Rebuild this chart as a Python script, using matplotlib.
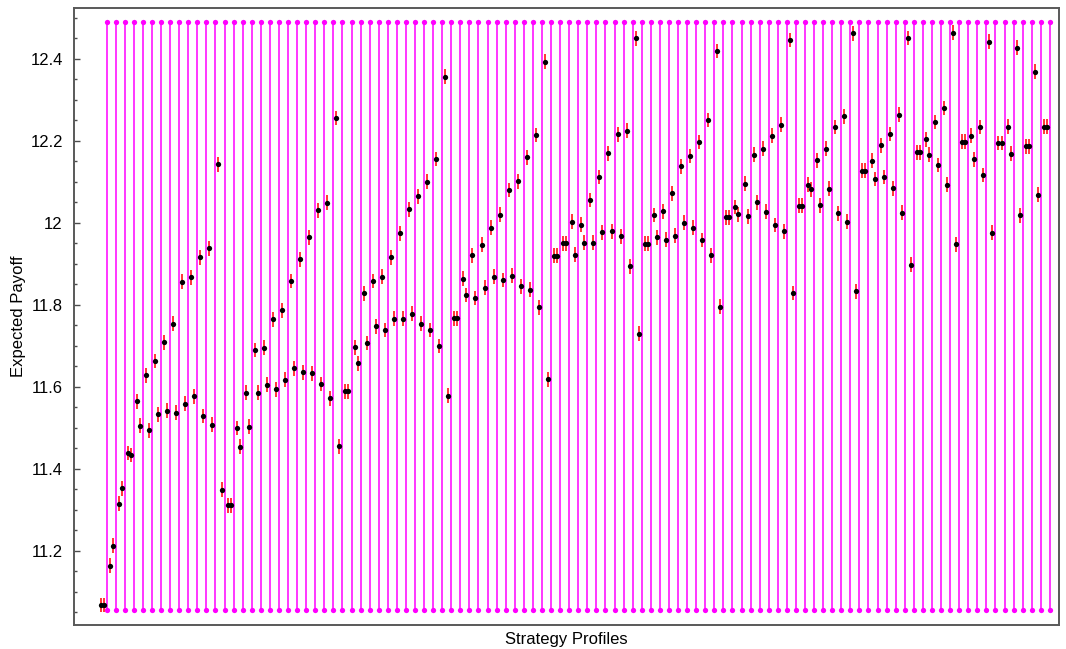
import numpy as np
import matplotlib.pyplot as plt
from matplotlib.ticker import MultipleLocator, FormatStrFormatter

plt.rcParams['font.family'] = ['Liberation Sans', 'DejaVu Sans']

# expected payoff of the two profiles in each block (first slot, second slot)
payoff_first = [
    11.068, 11.164, 11.315, 11.439, 11.565, 11.628, 11.663, 11.709, 11.754, 11.857,
    11.867, 11.916, 11.938, 12.143, 11.311, 11.500, 11.586, 11.690, 11.696, 11.765,
    11.787, 11.858, 11.911, 11.965, 12.031, 12.049, 12.256, 11.589, 11.697, 11.828,
    11.858, 11.869, 11.916, 11.975, 12.033, 12.065, 12.100, 12.156, 12.356, 11.767,
    11.864, 11.921, 11.947, 11.988, 12.020, 12.080, 12.101, 12.160, 12.214, 12.393,
    11.920, 11.950, 12.003, 11.996, 12.056, 12.112, 12.170, 12.216, 12.225, 12.450,
    11.949, 12.019, 12.028, 12.072, 12.138, 12.163, 12.197, 12.251, 12.419, 12.014,
    12.039, 12.096, 12.166, 12.181, 12.213, 12.239, 12.446, 12.042, 12.093, 12.153,
    12.181, 12.234, 12.260, 12.462, 12.127, 12.152, 12.189, 12.217, 12.264, 12.451,
    12.172, 12.204, 12.246, 12.280, 12.464, 12.198, 12.213, 12.234, 12.442, 12.195,
    12.235, 12.427, 12.187, 12.369, 12.235,
]
payoff_second = [
    11.068, 11.213, 11.353, 11.434, 11.505, 11.494, 11.533, 11.542, 11.537, 11.559,
    11.577, 11.529, 11.508, 11.349, 11.311, 11.454, 11.503, 11.586, 11.605, 11.594,
    11.618, 11.645, 11.636, 11.633, 11.607, 11.572, 11.455, 11.589, 11.658, 11.707,
    11.748, 11.739, 11.766, 11.766, 11.779, 11.754, 11.739, 11.700, 11.579, 11.767,
    11.824, 11.817, 11.842, 11.869, 11.861, 11.871, 11.845, 11.837, 11.794, 11.619,
    11.920, 11.950, 11.922, 11.952, 11.952, 11.977, 11.979, 11.967, 11.894, 11.730,
    11.949, 11.965, 11.959, 11.969, 12.000, 11.988, 11.958, 11.921, 11.796, 12.014,
    12.021, 12.016, 12.050, 12.027, 11.995, 11.979, 11.829, 12.042, 12.082, 12.043,
    12.083, 12.023, 12.003, 11.833, 12.127, 12.107, 12.112, 12.084, 12.025, 11.898,
    12.172, 12.166, 12.141, 12.093, 11.948, 12.198, 12.155, 12.117, 11.976, 12.195,
    12.169, 12.018, 12.187, 12.069, 12.235,
]
payoff_err = 0.018

# extent of the block separators
sep_low, sep_high = 11.057, 12.49

n_blocks = len(payoff_first)
blocks = np.arange(n_blocks)
x_first = 3 * blocks
x_second = 3 * blocks + 1
x_sep = 3 * blocks + 2

x = np.concatenate([x_first, x_second])
y = np.concatenate([payoff_first, payoff_second])

fig = plt.figure(figsize=(10.66, 6.49), dpi=100)
ax = fig.add_axes([0.0694, 0.037, 0.924, 0.9507])

# magenta separators with dots at both ends
ax.vlines(x_sep, sep_low, sep_high, color='#ff00ff', lw=1.1, zorder=1)
ax.plot(x_sep, np.full(n_blocks, sep_high), 'o', color='#ff00ff', ms=3.8, mew=0, zorder=1)
ax.plot(x_sep, np.full(n_blocks, sep_low), 'o', color='#ff00ff', ms=3.8, mew=0, zorder=1)

ax.errorbar(x, y, yerr=payoff_err, fmt='o', color='k', ms=3.8, mew=0,
            ecolor='r', elinewidth=1.1, capsize=0, zorder=3)

ax.set_xlim(-8.8, 317)
ax.set_ylim(11.0195, 12.524)
ax.set_xticks([])
ax.yaxis.set_major_locator(MultipleLocator(0.2))
ax.yaxis.set_minor_locator(MultipleLocator(0.05))
ax.yaxis.set_major_formatter(FormatStrFormatter('%g'))
ax.tick_params(axis='y', which='both', direction='in', colors='0.3', labelcolor='k',
               labelsize=12, pad=8)
ax.tick_params(axis='y', which='major', length=4, width=1)
ax.tick_params(axis='y', which='minor', length=2.5, width=1)

for s in ax.spines.values():
    s.set_color('0.35')
    s.set_linewidth(1.4)

ax.set_xlabel('Strategy Profiles', fontsize=12, labelpad=5)
ax.set_ylabel('Expected Payoff', fontsize=12, labelpad=3)

fig.savefig('out.png', dpi=100)
